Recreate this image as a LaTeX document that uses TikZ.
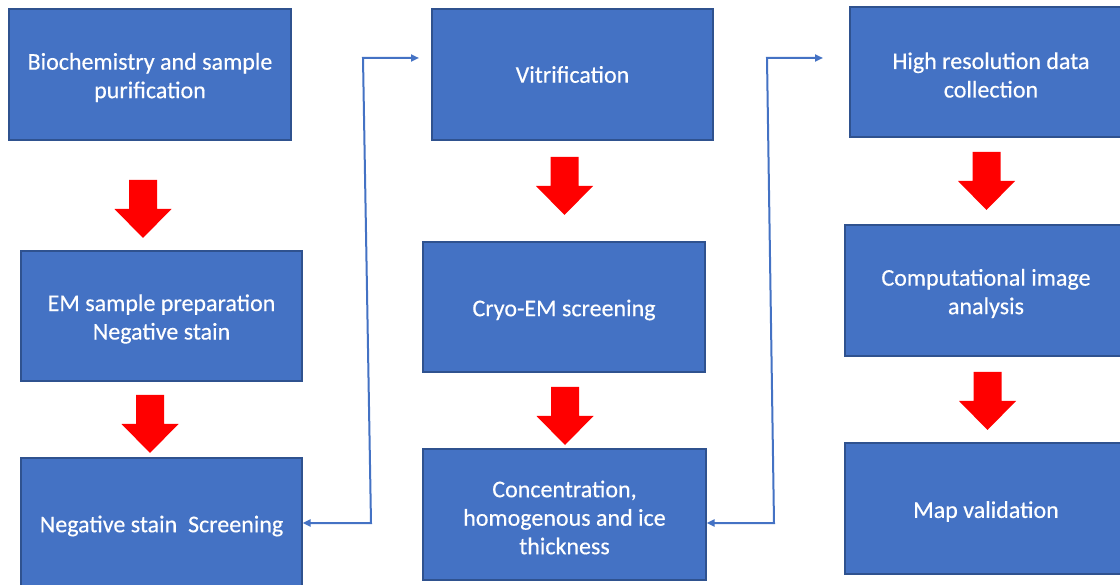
\documentclass[tikz,border=0pt]{standalone}
\usepackage{fontspec}
\setmainfont{Carlito}
\newfontfamily\boxfont{Carlito}[FakeBold=0.35]
\usetikzlibrary{arrows.meta}
\definecolor{boxblue}{HTML}{4472C4}
\definecolor{boxedge}{HTML}{2F528F}
\definecolor{arrred}{HTML}{FF0000}
\tikzset{
  stepbox/.style={draw=boxedge, line width=1.2pt, fill=boxblue, inner sep=0pt},
  boxtext/.style={text=white, align=center, inner sep=0pt, yshift=-3pt,
    font=\boxfont\fontsize{24}{28.5}\selectfont},
  link/.style={draw=boxblue, line width=2pt,
    {Triangle[length=8pt,width=7pt]}-{Triangle[length=8pt,width=7pt]}},
  blockarrow/.style={fill=arrred, draw=none}
}
\newcommand{\blockarr}[2]{%
  \fill[blockarrow] (#1-14,#2) -- (#1+14,#2) -- (#1+14,#2+29) -- (#1+28.5,#2+29)
    -- (#1,#2+58) -- (#1-28.5,#2+29) -- (#1-14,#2+29) -- cycle;}
\begin{document}
\begin{tikzpicture}[x=1pt,y=-1pt]
\clip (0,0) rectangle (1120,585);
\fill[white] (0,0) rectangle (1120,585);
% column 1
\node[stepbox, minimum width=282pt, minimum height=131pt,
  label={[boxtext]center:{Biochemistry and sample\\purification}}] (b1) at (150,74.5) {};
\node[stepbox, minimum width=281pt, minimum height=130pt,
  label={[boxtext]center:{EM sample preparation\\Negative stain}}] (b2) at (161.5,316) {};
\node[stepbox, minimum width=281pt, minimum height=130pt,
  label={[boxtext]center:{Negative stain~ Screening}}] (b3) at (161.5,523) {};
% column 2
\node[stepbox, minimum width=281pt, minimum height=131pt,
  label={[boxtext,yshift=3pt]center:{Vitrification}}] (b4) at (572.5,74.5) {};
\node[stepbox, minimum width=282pt, minimum height=130pt,
  label={[boxtext]center:{Cryo-EM screening}}] (b5) at (564,307) {};
\node[stepbox, minimum width=283pt, minimum height=131pt,
  label={[boxtext]center:{Concentration,\\homogenous and ice\\thickness}}] (b6) at (564.5,514.5) {};
% column 3
\node[stepbox, minimum width=282pt, minimum height=130pt,
  label={[boxtext]center:{High resolution data\\collection}}] (b7) at (991,72) {};
\node[stepbox, minimum width=282pt, minimum height=131pt,
  label={[boxtext]center:{Computational image\\analysis}}] (b8) at (986,290.5) {};
\node[stepbox, minimum width=282pt, minimum height=131pt,
  label={[boxtext]center:{Map validation}}] (b9) at (986,508.5) {};
% red block arrows
\blockarr{143}{180}
\blockarr{150}{395}
\blockarr{564.5}{157}
\blockarr{565}{387}
\blockarr{986.5}{152}
\blockarr{987.5}{372}
% connectors
\coordinate (c1b) at (371,523);
\coordinate (c1t) at (363,58);
\coordinate (c1e) at (419,58);
\draw[link] (b3.east) -- (c1b) -- (c1t) -- (c1e);
\coordinate (c2b) at (774,523);
\coordinate (c2t) at (767,58);
\coordinate (c2e) at (823,58);
\draw[link] (b6.east |- c2b) -- (c2b) -- (c2t) -- (c2e);
\end{tikzpicture}
\end{document}
